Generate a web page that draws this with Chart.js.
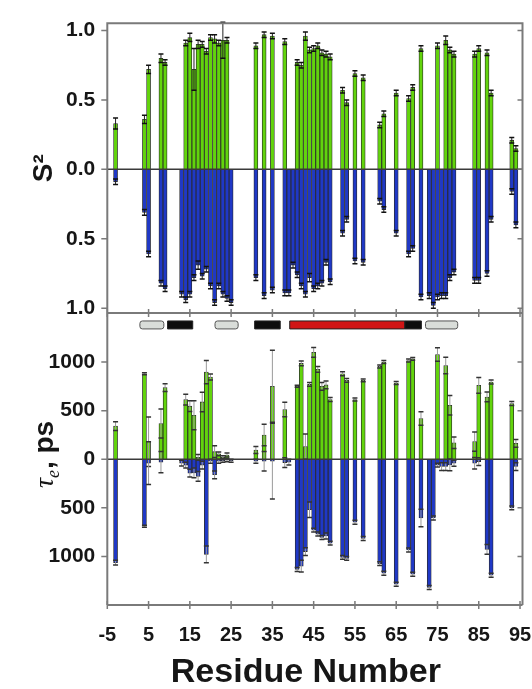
<!DOCTYPE html>
<html>
<head>
<meta charset="utf-8">
<script src="https://cdn.jsdelivr.net/npm/chart.js@4.4.1/dist/chart.umd.min.js"></script>
<style>
  html, body { margin: 0; padding: 0; background: #fff; }
  #wrap { position: relative; width: 532px; height: 689px; }
  #wrap canvas { position: absolute; left: 0; }
  #s2Chart { top: 0; }
  #tauChart { top: 306px; }
</style>
</head>
<body>
<div id="wrap">
  <canvas id="s2Chart" width="532" height="320"></canvas>
  <canvas id="tauChart" width="532" height="383"></canvas>
</div>
<script>
// residue numbers that carry a bar in either panel
const residues = [-3, 4, 5, 8, 9, 13, 14, 15, 16, 17, 18, 19, 20, 21, 22, 23, 24, 25,
  31, 33, 35, 38, 39, 40, 41, 42, 43, 44, 45, 46, 47, 48, 49, 52, 53, 55, 57,
  61, 62, 65, 68, 69, 71, 73, 74, 75, 76, 77, 78, 79, 84, 85, 87, 88, 93, 94];

// order parameter S2 (green = upper, blue = lower, plotted downwards)
const s2Green = [0.33, 0.36, 0.72, 0.80, 0.77, null, 0.91, 0.95, 0.72, 0.90, 0.90, 0.85, 0.95, 0.94, 0.91, 0.93, 0.93, null,
  0.89, 0.97, 0.96, 0.92, null, null, 0.77, 0.75, 0.96, 0.86, 0.87, 0.89, 0.84, 0.83, 0.81, 0.57, 0.48, 0.69, 0.66,
  0.32, 0.40, 0.55, 0.51, 0.59, 0.87, null, null, 0.89, null, 0.93, 0.86, 0.83, 0.83, 0.87, 0.84, 0.55, 0.21, 0.15];
const s2Blue = [0.09, 0.31, 0.61, 0.82, 0.86, 0.90, 0.94, 0.90, 0.78, 0.69, 0.77, 0.72, 0.84, 0.96, 0.84, 0.90, 0.93, 0.96,
  0.78, 0.91, 0.87, 0.89, 0.89, 0.69, 0.76, 0.84, 0.90, 0.78, 0.86, 0.84, 0.82, 0.67, 0.81, 0.46, 0.36, 0.66, 0.67,
  0.23, 0.29, 0.46, 0.61, 0.57, 0.92, 0.91, 0.98, 0.92, 0.91, 0.91, 0.78, 0.74, 0.80, 0.80, 0.75, 0.36, 0.16, 0.40];
const s2GreenErr = [0.04, 0.03, 0.03, 0.03, 0.02, null, 0.02, 0.03, 0.15, 0.03, 0.02, 0.02, 0.02, 0.03, 0.02, 0.13, 0.02, null,
  0.02, 0.02, 0.02, 0.02, null, null, 0.02, 0.02, 0.03, 0.02, 0.02, 0.02, 0.02, 0.02, 0.02, 0.02, 0.02, 0.02, 0.02,
  0.02, 0.02, 0.02, 0.02, 0.02, 0.02, null, null, 0.02, null, 0.03, 0.02, 0.02, 0.02, 0.02, 0.02, 0.02, 0.02, 0.02];
const s2BlueErr = [0.02, 0.02, 0.02, 0.02, 0.02, 0.02, 0.02, 0.02, 0.02, 0.03, 0.02, 0.02, 0.02, 0.02, 0.02, 0.02, 0.02, 0.02,
  0.02, 0.02, 0.02, 0.02, 0.02, 0.02, 0.02, 0.02, 0.02, 0.03, 0.02, 0.02, 0.02, 0.02, 0.02, 0.02, 0.02, 0.02, 0.02,
  0.02, 0.02, 0.02, 0.02, 0.02, 0.02, 0.02, 0.02, 0.02, 0.02, 0.02, 0.02, 0.02, 0.02, 0.02, 0.02, 0.02, 0.02, 0.02];

// internal correlation time tau_e in ps
const tauGreen = [341, 880, 181, 368, 737, null, 614, 546, 453, 20, 590, 897, 846, 78, 55, 20, 44, null,
  95, 249, 751, 512, null, null, 751, 986, 130, 770, 1100, 925, 751, 765, 615, 880, 812, 614, 812,
  955, 1000, 784, 1016, 1033, 419, null, null, 1078, null, 965, 556, 170, 181, 760, 641, 795, 573, 164];
const tauBlue = [1064, 689, 40, 30, null, 40, 60, 143, 140, 177, 60, 979, 20, 160, 20, 15, 10, 15,
  20, 20, 20, 34, 30, null, 1135, 1100, 950, 520, 730, 770, 805, 790, 863, 1010, 1020, 648, 815,
  1074, 1173, 1286, 934, 1183, 604, 1320, 604, 60, 75, 75, 58, 41, 41, 24, 928, 1194, 501, 75];
const tauGreenErr = [45, 10, 255, 150, 40, null, 55, 55, 150, 30, 100, 120, 30, 60, 20, 15, 20, null,
  35, 110, 370, 75, null, null, 10, 25, 130, 20, 50, 30, 40, 40, 20, 20, 20, 15, 15,
  15, 15, 15, 15, 15, 70, null, null, 70, null, 85, 100, 60, 100, 80, 50, 20, 20, 40];
const tauBlueErr = [25, 10, 220, 110, null, 30, 30, 40, 50, 50, 40, 85, 20, 40, 20, 15, 15, 15,
  20, 100, 390, 50, 30, null, 20, 60, 40, 80, 20, 20, 20, 30, 20, 20, 20, 20, 20,
  20, 20, 20, 20, 20, 90, 20, 20, 20, 40, 40, 60, 30, 60, 40, 50, 20, 20, 40];

// secondary structure segments (residue ranges) shown above the tau panel
const ssStart = [2.9, 9.6, 21.1, 30.7, 39.2, 67.1, 72.1];
const ssEnd = [8.7, 15.7, 26.7, 36.9, 67.1, 71.1, 79.9];
const ssKind = ['grey', 'black', 'grey', 'black', 'red', 'black', 'grey'];

const xTicks = [-5, 5, 15, 25, 35, 45, 55, 65, 75, 85, 95];
const s2Ticks = [-1, -0.5, 0, 0.5, 1];
const tauTicks = [-1000, -500, 0, 500, 1000];

const GREEN = '#62d40c';
const BLUE = '#1f38c6';
const EDGE = '#2a2a2a';
const FRAME = '#7a7a7a';
const TEXT = '#161616';
const FONT = '"Liberation Sans", Arial, sans-serif';

const pts = (vals, sign) =>
  residues.map((r, i) => ({ x: r, y: vals[i] == null ? null : sign * vals[i] }));

function barSet(vals, errs, sign, color, whisker, cap) {
  return {
    data: pts(vals, sign),
    errors: errs,
    whisker,
    cap,
    backgroundColor: color,
    borderColor: EDGE,
    borderWidth: 0.8,
    grouped: false,
    barThickness: 4,
  };
}

// whiskers with caps, both directions from the bar tip
const errorBars = {
  id: 'errorBars',
  afterDatasetsDraw(chart) {
    const { ctx } = chart;
    const ys = chart.scales.y;
    chart.data.datasets.forEach((ds, di) => {
      if (!ds.errors) return;
      const meta = chart.getDatasetMeta(di);
      meta.data.forEach((bar, i) => {
        const v = ds.data[i].y;
        const e = ds.errors[i];
        if (v == null || !e) return;
        const hi = ys.getPixelForValue(v + e);
        const lo = ys.getPixelForValue(v - e);
        ctx.save();
        ctx.lineWidth = 1;
        ctx.strokeStyle = ds.whisker;
        ctx.beginPath();
        ctx.moveTo(bar.x, hi);
        ctx.lineTo(bar.x, lo);
        ctx.stroke();
        ctx.strokeStyle = ds.cap;
        ctx.lineWidth = 1.5;
        ctx.beginPath();
        ctx.moveTo(bar.x - 2.5, hi);
        ctx.lineTo(bar.x + 2.5, hi);
        ctx.moveTo(bar.x - 2.5, lo);
        ctx.lineTo(bar.x + 2.5, lo);
        ctx.stroke();
        ctx.restore();
      });
    });
  },
};

// zero line, box and tick marks
const axisFrame = {
  id: 'axisFrame',
  afterDatasetsDraw(chart, args, opts) {
    const { ctx, chartArea: a, scales: { x, y } } = chart;
    ctx.save();
    const y0 = y.getPixelForValue(0);
    ctx.strokeStyle = '#3a3a3a';
    ctx.lineWidth = 1.5;
    ctx.beginPath();
    ctx.moveTo(a.left, y0);
    ctx.lineTo(a.right, y0);
    ctx.stroke();

    ctx.strokeStyle = FRAME;
    ctx.lineWidth = 2;
    ctx.beginPath();
    ctx.moveTo(a.left, a.bottom);
    ctx.lineTo(a.left, a.top);
    ctx.moveTo(a.right, a.bottom);
    ctx.lineTo(a.right, a.top);
    ctx.moveTo(a.left, a.bottom);
    ctx.lineTo(a.right, a.bottom);
    if (opts.top) {
      ctx.moveTo(a.left - 1, a.top);
      ctx.lineTo(a.right + 1, a.top);
    }
    ctx.stroke();

    ctx.lineWidth = 1.5;
    ctx.beginPath();
    opts.yTicks.forEach((v) => {
      const py = y.getPixelForValue(v);
      ctx.moveTo(a.left - 6, py);
      ctx.lineTo(a.left, py);
      ctx.moveTo(a.right - 5, py);
      ctx.lineTo(a.right, py);
    });
    xTicks.forEach((v) => {
      const px = x.getPixelForValue(v);
      ctx.moveTo(px, a.bottom - 4);
      ctx.lineTo(px, a.bottom + 4);
    });
    ctx.stroke();
    ctx.restore();
  },
};

// secondary structure strip across the top of the tau panel
const ssStrip = {
  id: 'ssStrip',
  afterDatasetsDraw(chart) {
    const { ctx, scales: { x, y } } = chart;
    const top = y.getPixelForValue(1423);
    const h = y.getPixelForValue(1341) - top;
    const fill = { grey: '#d9ddd9', black: '#0d0d0d', red: '#d01515' };
    ctx.save();
    ssStart.forEach((s, i) => {
      const l = x.getPixelForValue(s);
      const w = x.getPixelForValue(ssEnd[i]) - l;
      ctx.beginPath();
      if (ssKind[i] === 'grey') ctx.roundRect(l, top, w, h, 2.5);
      else ctx.rect(l, top, w, h);
      ctx.fillStyle = fill[ssKind[i]];
      ctx.fill();
      ctx.lineWidth = 1;
      ctx.strokeStyle = ssKind[i] === 'grey' ? '#555' : '#222';
      ctx.stroke();
    });
    ctx.restore();
  },
};

// rotated tau_e, ps label and the Residue Number caption
const axisTitles = {
  id: 'axisTitles',
  afterDraw(chart) {
    const { ctx, chartArea: a } = chart;
    const tauFont = 'italic 28px "Liberation Serif", serif';
    const subFont = 'italic 18px "Liberation Serif", serif';
    const restFont = 'bold 28px ' + FONT;
    ctx.save();
    ctx.fillStyle = TEXT;

    ctx.font = 'bold 34px ' + FONT;
    ctx.textAlign = 'center';
    ctx.textBaseline = 'middle';
    ctx.fillText('Residue Number', (a.left + a.right) / 2 - 9, a.bottom + 68);

    ctx.textAlign = 'left';
    ctx.translate(44, (a.top + a.bottom) / 2 - 4);
    ctx.rotate(-Math.PI / 2);
    ctx.font = tauFont;
    const w1 = ctx.measureText('τ').width;
    ctx.font = subFont;
    const w2 = ctx.measureText('e').width;
    ctx.font = restFont;
    const w3 = ctx.measureText(', ps').width;
    let u = -(w1 + w2 + w3) / 2;
    ctx.textBaseline = 'alphabetic';
    ctx.font = tauFont;
    ctx.fillText('τ', u, 9);
    u += w1;
    ctx.font = subFont;
    ctx.fillText('e', u, 15);
    u += w2 + 1;
    ctx.font = restFont;
    ctx.fillText(', ps', u, 9);
    ctx.restore();
  },
};

const xAxisBase = {
  type: 'linear',
  min: -5,
  max: 95.6,
  offset: false,
  afterBuildTicks: (s) => { s.ticks = xTicks.map((v) => ({ value: v })); },
  grid: { display: false, drawTicks: false, offset: false },
  border: { display: false },
};

function yAxis(min, max, ticks, decimals) {
  return {
    min,
    max,
    afterBuildTicks: (s) => { s.ticks = ticks.map((v) => ({ value: v })); },
    afterFit: (s) => {
      s.width = 107.3;
      s.paddingTop = 0;
      s.paddingBottom = 0;
    },
    grid: { display: false, drawTicks: false },
    border: { display: false },
    ticks: {
      padding: 12,
      color: TEXT,
      font: { family: FONT, size: 21, weight: 'bold' },
      callback: (v) => Math.abs(v).toFixed(decimals),
    },
  };
}

new Chart(document.getElementById('s2Chart'), {
  type: 'bar',
  data: {
    datasets: [
      barSet(s2Green, s2GreenErr, 1, GREEN, '#222', '#111'),
      barSet(s2Blue, s2BlueErr, -1, BLUE, '#222', '#111'),
    ],
  },
  options: {
    responsive: false,
    animation: false,
    layout: { padding: { left: 0, right: 9.5, top: 23.3, bottom: 7 } },
    scales: {
      x: { ...xAxisBase, display: false },
      y: {
        ...yAxis(-1.035, 1.052, s2Ticks, 1),
        title: {
          display: true,
          text: 'S²',
          color: TEXT,
          padding: { top: 30, bottom: 0 },
          font: { family: FONT, size: 28, weight: 'bold', lineHeight: 1 },
        },
      },
    },
    plugins: {
      legend: { display: false },
      tooltip: { enabled: false },
      axisFrame: { top: true, yTicks: s2Ticks },
    },
  },
  plugins: [errorBars, axisFrame],
});

new Chart(document.getElementById('tauChart'), {
  type: 'bar',
  data: {
    datasets: [
      barSet(tauGreen, tauGreenErr, 1, GREEN, '#9a9a9a', '#333'),
      barSet(tauBlue, tauBlueErr, -1, BLUE, '#9a9a9a', '#333'),
    ],
  },
  options: {
    responsive: false,
    animation: false,
    layout: { padding: { left: 0, right: 9.5, top: 7, bottom: 0 } },
    scales: {
      x: {
        ...xAxisBase,
        afterFit: (s) => {
          s.height = 84;
          s.paddingLeft = 0;
          s.paddingRight = 0;
        },
        ticks: {
          padding: 18,
          color: TEXT,
          maxRotation: 0,
          autoSkip: false,
          font: { family: FONT, size: 20, weight: 'bold' },
          callback: (v) => String(v),
        },
      },
      y: yAxis(-1500, 1505, tauTicks, 0),
    },
    plugins: {
      legend: { display: false },
      tooltip: { enabled: false },
      axisFrame: { top: false, yTicks: tauTicks },
    },
  },
  plugins: [errorBars, ssStrip, axisFrame, axisTitles],
});
</script>
</body>
</html>
